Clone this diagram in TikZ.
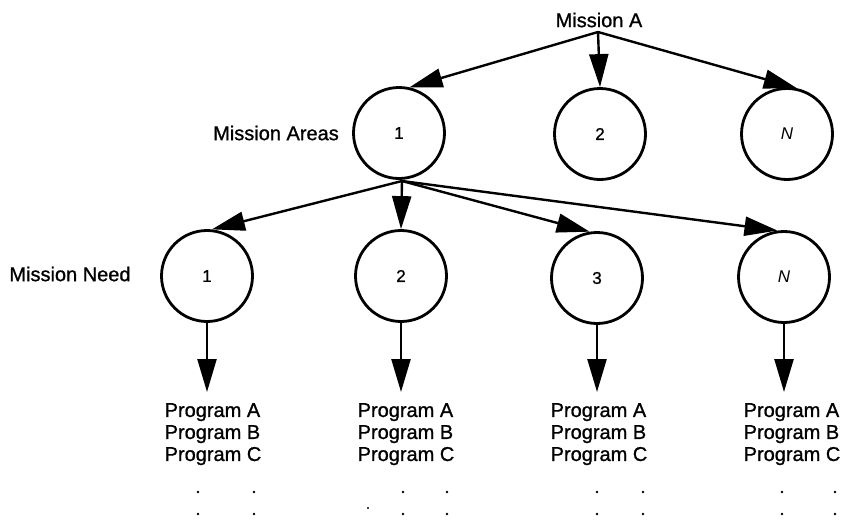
\documentclass[tikz,border=0pt]{standalone}
\usepackage{fontspec}
\setmainfont{Liberation Sans}[BoldFont=Liberation Sans, BoldFeatures={FakeBold=1.0}]
\usetikzlibrary{arrows.meta}
\begin{document}
\begin{tikzpicture}[x=1pt,y=-1pt,
  bub/.style={circle,draw,line width=2.8pt,minimum size=91pt,inner sep=0pt,font=\fontsize{17}{20}\selectfont\bfseries},
  lbl/.style={inner sep=0pt,font=\fontsize{20}{22}\selectfont\bfseries},
  prog/.style={align=left,anchor=north,inner xsep=0pt,inner ysep=11pt,font=\fontsize{20}{22}\selectfont\bfseries},
  arr/.style={line width=2.4pt,-{Triangle[length=33pt,width=19pt]}},
  dot/.style={fill=black}
]
\useasboundingbox (0,0) rectangle (842,522);

% top
\node[lbl] (mA) at (599,20) {Mission A};
\coordinate (top) at (598,32);

% mission areas
\node[lbl] (areas) at (276,133) {Mission Areas};
\node[bub] (a1) at (399,133) {1};
\node[bub] (a2) at (600,134) {2};
\node[bub] (aN) at (787,134) {\itshape N};

\draw[arr] (top) -- (a1.77);
\draw[arr] (top) -- (a2.north);
\draw[arr] (top) -- (aN.78);

% mission needs
\node[lbl] (need) at (70,274) {Mission Need};
\node[bub] (n1) at (207,276) {1};
\node[bub] (n2) at (401,276) {2};
\node[bub] (n3) at (597,278) {3};
\node[bub] (nN) at (784,277) {\itshape N};

\coordinate (fan) at (402,181);
\draw[arr] (fan) -- (n1.84);
\draw[arr] (fan) -- (n2.north);
\draw[arr] (fan) -- (n3.99);
\draw[arr] (fan) -- (nN.98);

% programs
\node[prog] (p1) at (213,392) {Program A\\Program B\\Program C};
\node[prog] (p2) at (406,392) {Program A\\Program B\\Program C};
\node[prog] (p3) at (599,392) {Program A\\Program B\\Program C};
\node[prog] (pN) at (792,392) {Program A\\Program B\\Program C};

\draw[arr] (n1.south) -- (n1.south |- p1.north);
\draw[arr] (n2.south) -- (n2.south |- p2.north);
\draw[arr] (n3.south) -- (n3.south |- p3.north);
\draw[arr] (nN.south) -- (nN.south |- pN.north);

% continuation dots
\foreach \x in {198,254,403,447,597,643,782,835}{
  \fill[dot] (\x,492) circle (1.4pt);
  \fill[dot] (\x,514) circle (1.4pt);
}
\fill[dot] (368,508) circle (1.2pt);
\end{tikzpicture}
\end{document}
